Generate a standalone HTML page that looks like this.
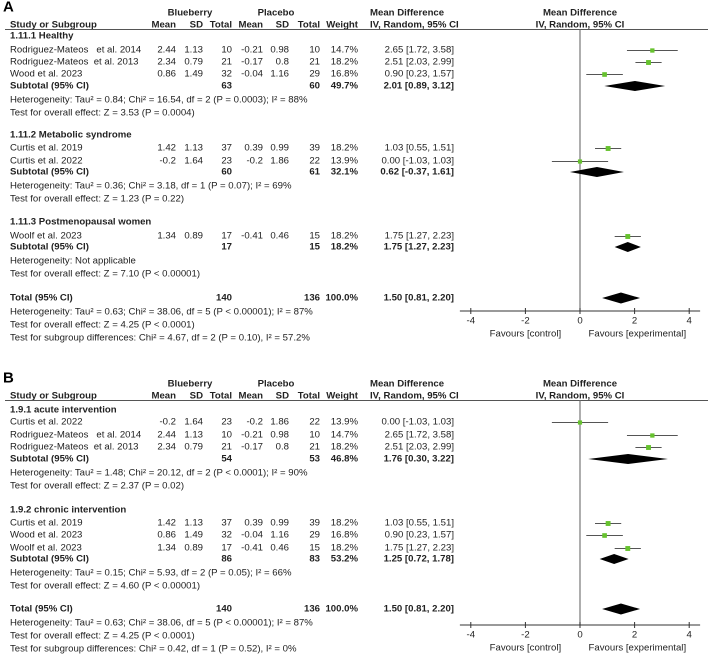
<!DOCTYPE html>
<html><head><meta charset="utf-8"><style>
html,body{margin:0;padding:0;background:#fff;}
svg{display:block;font-family:"Liberation Sans",Arial,sans-serif;}
text{font-size:9.6px;fill:#222;white-space:pre;}
.b{font-weight:bold;}
</style></head><body>
<svg id="fig" width="708" height="657" viewBox="0 0 708 657"></svg>
<script>
// ---------- Panel A data ----------
const A_study=["Rodriguez-Mateos   et al. 2014","Rodriguez-Mateos  et al. 2013","Wood et al. 2023","Curtis et al. 2019","Curtis et al. 2022","Woolf et al. 2023"];
const A_bbMean=["2.44","2.34","0.86","1.42","-0.2","1.34"];
const A_bbSD=["1.13","0.79","1.49","1.13","1.64","0.89"];
const A_bbN=[10,21,32,37,23,17];
const A_plMean=["-0.21","-0.17","-0.04","0.39","-0.2","-0.41"];
const A_plSD=["0.98","0.8","1.16","0.99","1.86","0.46"];
const A_plN=[10,21,29,39,22,15];
const A_weight=[14.7,18.2,16.8,18.2,13.9,18.2];
const A_md=[2.65,2.51,0.90,1.03,0.00,1.75];
const A_lo=[1.72,2.03,0.23,0.55,-1.03,1.27];
const A_hi=[3.58,2.99,1.57,1.51,1.03,2.23];
const A_group=[0,0,0,1,1,2];
const A_groupTitle=["1.11.1 Healthy","1.11.2 Metabolic syndrome","1.11.3 Postmenopausal women"];
const A_subBbN=[63,60,17];
const A_subPlN=[60,61,15];
const A_subW=[49.7,32.1,18.2];
const A_subMd=[2.01,0.62,1.75];
const A_subLo=[0.89,-0.37,1.27];
const A_subHi=[3.12,1.61,2.23];
const A_het=["Heterogeneity: Tau² = 0.84; Chi² = 16.54, df = 2 (P = 0.0003); I² = 88%","Heterogeneity: Tau² = 0.36; Chi² = 3.18, df = 1 (P = 0.07); I² = 69%","Heterogeneity: Not applicable"];
const A_test=["Test for overall effect: Z = 3.53 (P = 0.0004)","Test for overall effect: Z = 1.23 (P = 0.22)","Test for overall effect: Z = 7.10 (P < 0.00001)"];
const A_subgroupTest="Test for subgroup differences: Chi² = 4.67, df = 2 (P = 0.10), I² = 57.2%";

// ---------- Panel B data ----------
const B_study=["Curtis et al. 2022","Rodriguez-Mateos   et al. 2014","Rodriguez-Mateos  et al. 2013","Curtis et al. 2019","Wood et al. 2023","Woolf et al. 2023"];
const B_bbMean=["-0.2","2.44","2.34","1.42","0.86","1.34"];
const B_bbSD=["1.64","1.13","0.79","1.13","1.49","0.89"];
const B_bbN=[23,10,21,37,32,17];
const B_plMean=["-0.2","-0.21","-0.17","0.39","-0.04","-0.41"];
const B_plSD=["1.86","0.98","0.8","0.99","1.16","0.46"];
const B_plN=[22,10,21,39,29,15];
const B_weight=[13.9,14.7,18.2,18.2,16.8,18.2];
const B_md=[0.00,2.65,2.51,1.03,0.90,1.75];
const B_lo=[-1.03,1.72,2.03,0.55,0.23,1.27];
const B_hi=[1.03,3.58,2.99,1.51,1.57,2.23];
const B_group=[0,0,0,1,1,1];
const B_groupTitle=["1.9.1 acute intervention","1.9.2 chronic intervention"];
const B_subBbN=[54,86];
const B_subPlN=[53,83];
const B_subW=[46.8,53.2];
const B_subMd=[1.76,1.25];
const B_subLo=[0.30,0.72];
const B_subHi=[3.22,1.78];
const B_het=["Heterogeneity: Tau² = 1.48; Chi² = 20.12, df = 2 (P < 0.0001); I² = 90%","Heterogeneity: Tau² = 0.15; Chi² = 5.93, df = 2 (P = 0.05); I² = 66%"];
const B_test=["Test for overall effect: Z = 2.37 (P = 0.02)","Test for overall effect: Z = 4.60 (P < 0.00001)"];
const B_subgroupTest="Test for subgroup differences: Chi² = 0.42, df = 1 (P = 0.52), I² = 0%";

// ---------- shared totals ----------
const totalBbN=140, totalPlN=136, totalMd=1.50, totalLo=0.81, totalHi=2.20;
const axisTicks=[-4,-2,0,2,4];

// ---------- layout (positions) ----------
const A_layout={top:0,rowY:[50,62,74,148,161,236],titleY:[36,135,222],subY:[86,172,247],hetY:[100,186,261],testY:[113,199,274],totalY:298,axisY:311};
const B_layout={top:371,rowY:[422,435,447,523,535,548],titleY:[410,510],subY:[459,559],hetY:[473,573],testY:[486,586],totalY:609,axisY:625};

const svg=document.getElementById('fig');
const NS="http://www.w3.org/2000/svg";
const X0=580, UNIT=27.3;
function xs(v){return X0+v*UNIT;}
function mk(tag,attrs,parent){const e=document.createElementNS(NS,tag);for(const k in attrs)e.setAttribute(k,attrs[k]);(parent||svg).appendChild(e);return e;}
function txt(s,x,y,anchor,bold,parent,name){
  const t=mk('text',{x:x,y:y,'text-anchor':anchor||'start','dominant-baseline':'central'},parent);
  if(bold)t.setAttribute('class','b');
  t.textContent=s;
  
  
  return t;
}
function fmt(v){return v.toFixed(2);}
function ci(m,l,h){return fmt(m)+" ["+fmt(l)+", "+fmt(h)+"]";}

function drawPanel(letter,L,study,bbMean,bbSD,bbN,plMean,plSD,plN,weight,md,lo,hi,group,groupTitle,subBbN,subPlN,subW,subMd,subLo,subHi,het,test,subgroupTest){
  const g=mk('g',{});
  
  
  const T=L.top;
  const pl=mk('text',{x:3,y:T+7,'dominant-baseline':'central',style:'font-size:15px;font-weight:bold;fill:#000'},g);
  pl.textContent=letter;
  
  
  txt("Blueberry",190,T+13,'middle',true,g,'blueberry-header');
  txt("Placebo",276,T+13,'middle',true,g,'placebo-header');
  txt("Mean Difference",370,T+13,'start',true,g,'mean-difference-header');
  txt("Mean Difference",580,T+13,'middle',true,g,'plot-header');
  const hy=T+25;
  txt("Study or Subgroup",10,hy,'start',true,g,'study-column-header');
  [["Mean",176],["SD",203],["Total",232],["Mean",263],["SD",289],["Total",320],["Weight",358]].forEach(c=>txt(c[0],c[1],hy,'end',true,g,'column-header'));
  txt("IV, Random, 95% CI",370,hy,'start',true,g,'ci-column-header');
  txt("IV, Random, 95% CI",580,hy,'middle',true,g,'plot-subheader');
  const lineY=T+29.5;
  const hl=mk('line',{x1:5,x2:708,y1:lineY,y2:lineY,stroke:'#555','stroke-width':1},g);
  
  
  const zl=mk('line',{x1:X0,x2:X0,y1:lineY,y2:L.axisY,stroke:'#777','stroke-width':1.2},g);
  
  
  groupTitle.forEach((s,i)=>{
    txt(s,10,L.titleY[i],'start',true,g,'subgroup-title');
    const y=L.subY[i];
    txt("Subtotal (95% CI)",10,y,'start',true,g,'subtotal-label');
    txt(String(subBbN[i]),232,y,'end',true,g,'subtotal-n');
    txt(String(subPlN[i]),320,y,'end',true,g,'subtotal-n');
    txt(subW[i].toFixed(1)+"%",358,y,'end',true,g,'subtotal-weight');
    txt(ci(subMd[i],subLo[i],subHi[i]),454,y,'end',true,g,'subtotal-ci');
    const d=mk('polygon',{points:`${xs(subLo[i])},${y} ${xs(subMd[i])},${y-5} ${xs(subHi[i])},${y} ${xs(subMd[i])},${y+5}`,fill:'#000'},g);
    
    
    txt(het[i],10,L.hetY[i],'start',false,g,'heterogeneity');
    txt(test[i],10,L.testY[i],'start',false,g,'overall-effect-test');
  });
  study.forEach((s,i)=>{
    const y=L.rowY[i];
    txt(s,10,y,'start',false,g,'study-name');
    txt(bbMean[i],176,y,'end',false,g,'cell');
    txt(bbSD[i],203,y,'end',false,g,'cell');
    txt(String(bbN[i]),232,y,'end',false,g,'cell');
    txt(plMean[i],263,y,'end',false,g,'cell');
    txt(plSD[i],289,y,'end',false,g,'cell');
    txt(String(plN[i]),320,y,'end',false,g,'cell');
    txt(weight[i].toFixed(1)+"%",358,y,'end',false,g,'weight');
    txt(ci(md[i],lo[i],hi[i]),454,y,'end',false,g,'study-ci');
    const l=mk('line',{x1:xs(lo[i]),x2:xs(hi[i]),y1:y+0.5,y2:y+0.5,stroke:'#555','stroke-width':1},g);
    
    
    const sz=1.8+weight[i]*0.17;
    const r=mk('rect',{x:xs(md[i])-sz/2,y:y+0.5-sz/2,width:sz,height:sz,fill:'#66c22e'},g);
    
    
  });
  const ty=L.totalY;
  txt("Total (95% CI)",10,ty,'start',true,g,'total-label');
  txt(String(totalBbN),232,ty,'end',true,g,'total-n');
  txt(String(totalPlN),320,ty,'end',true,g,'total-n');
  txt("100.0%",358,ty,'end',true,g,'total-weight');
  txt(ci(totalMd,totalLo,totalHi),454,ty,'end',true,g,'total-ci');
  const td=mk('polygon',{points:`${xs(totalLo)},${ty} ${xs(totalMd)},${ty-5.5} ${xs(totalHi)},${ty} ${xs(totalMd)},${ty+5.5}`,fill:'#000'},g);
  
  
  txt("Heterogeneity: Tau² = 0.63; Chi² = 38.06, df = 5 (P < 0.00001); I² = 87%",10,ty+14,'start',false,g,'total-heterogeneity');
  txt("Test for overall effect: Z = 4.25 (P < 0.0001)",10,ty+27,'start',false,g,'total-effect-test');
  txt(subgroupTest,10,ty+40,'start',false,g,'subgroup-differences-test');
  const ay=L.axisY;
  const ax=mk('line',{x1:xs(-4.4),x2:xs(4.4),y1:ay,y2:ay,stroke:'#333','stroke-width':1},g);
  
  
  axisTicks.forEach(t=>{
    const tk=mk('line',{x1:xs(t),x2:xs(t),y1:ay-3,y2:ay+3,stroke:'#333','stroke-width':1},g);
    
    
    txt(String(t),xs(t),ay+10,'middle',false,g,'tick-label');
  });
  txt("Favours [control]",xs(-2),ay+23,'middle',false,g,'favours-control');
  txt("Favours [experimental]",xs(2.1),ay+23,'middle',false,g,'favours-experimental');
}
drawPanel("A",A_layout,A_study,A_bbMean,A_bbSD,A_bbN,A_plMean,A_plSD,A_plN,A_weight,A_md,A_lo,A_hi,A_group,A_groupTitle,A_subBbN,A_subPlN,A_subW,A_subMd,A_subLo,A_subHi,A_het,A_test,A_subgroupTest);
drawPanel("B",B_layout,B_study,B_bbMean,B_bbSD,B_bbN,B_plMean,B_plSD,B_plN,B_weight,B_md,B_lo,B_hi,B_group,B_groupTitle,B_subBbN,B_subPlN,B_subW,B_subMd,B_subLo,B_subHi,B_het,B_test,B_subgroupTest);
</script>
</body></html>
